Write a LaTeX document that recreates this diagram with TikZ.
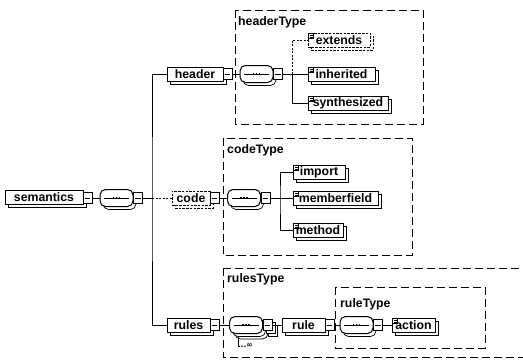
\documentclass[tikz,border=0pt]{standalone}
\usepackage{fontspec}
\setmainfont{Liberation Sans}
\newfontfamily\symfont{DejaVu Sans}
\usetikzlibrary{shadows}

\tikzset{
  x=1pt, y=-1pt,
  lbl/.style={font=\bfseries\fontsize{12.3}{14}\selectfont},
  conn/.style={line width=0.9pt},
  dconn/.style={line width=0.9pt, dash pattern=on 2pt off 1.5pt},
  typebox/.style={line width=0.8pt, dash pattern=on 8pt off 4pt},
  title/.style={lbl, anchor=west, inner sep=0pt},
  shadowA/.style={general shadow={shadow xshift=3pt, shadow yshift=-3pt, draw, fill=white, line width=0.7pt, #1}},
  elbase/.style={lbl, rectangle, draw, fill=white, line width=1pt, inner sep=0pt, minimum height=14pt},
  elem/.style={elbase, shadowA={}},
  optelem/.style={elbase, dash pattern=on 2.5pt off 1.2pt, shadowA={dash pattern=on 2.5pt off 1.2pt}},
  ind/.style={rectangle, draw, fill=white, line width=0.8pt, minimum width=9pt, minimum height=11pt, inner sep=0pt, anchor=west,
    path picture={\draw[line width=0.8pt] ([xshift=1.8pt]path picture bounding box.west) -- ([xshift=-1.8pt]path picture bounding box.east);}},
  seqbase/.style={rectangle, rounded corners=5.5pt, draw, fill=white, line width=1pt,
    minimum width=33pt, minimum height=17pt, inner sep=0pt,
    path picture={
      \draw[line width=0.9pt] ([xshift=4pt]path picture bounding box.west) -- ([xshift=-4pt]path picture bounding box.east);
      \foreach \d in {-3,0,3}
        \fill[black, rounded corners=0pt] ([xshift=\d pt]path picture bounding box.center) +(-0.95pt,-0.95pt) rectangle +(0.95pt,0.95pt);
    }},
  seq/.style={seqbase, shadowA={}},
  seqmany/.style={seqbase,
    general shadow={shadow xshift=5.5pt, shadow yshift=-5.5pt, draw, fill=white, line width=0.7pt},
    general shadow={shadow xshift=3pt, shadow yshift=-3pt, draw, fill=white, line width=0.7pt}},
  indmany/.style={ind,
    general shadow={shadow xshift=5.5pt, shadow yshift=-5.5pt, draw, fill=white, line width=0.7pt},
    general shadow={shadow xshift=3pt, shadow yshift=-3pt, draw, fill=white, line width=0.7pt}},
}

% small content icon in the upper left corner of an element box
\newcommand\elicon[1]{%
  \draw[line width=0.45pt, fill=white] ([shift={(1.2pt,-1.2pt)}]#1.north west) rectangle ++(5pt,-5pt);
  \draw[line width=0.45pt] ([shift={(2.2pt,-3pt)}]#1.north west) -- ++(3pt,0pt)
                           ([shift={(2.2pt,-4.6pt)}]#1.north west) -- ++(3pt,0pt);}

\begin{document}
\begin{tikzpicture}
\useasboundingbox (0,0) rectangle (523,362);
\fill[white] (0,0) rectangle (523,362);
\clip (0,0) rectangle (523,362);

% complex type frames
\draw[typebox] (235,10) rectangle (423,124);
\node[title] (tHeader) at (238,22) {headerType};
\draw[typebox] (223,138) rectangle (412,255);
\node[title] (tCode) at (227,150) {codeType};
\draw[typebox] (223,268) rectangle (540,357);
\node[title] (tRules) at (227,279) {rulesType};
\draw[typebox] (335,287) rectangle (485,348);
\node[title] (tRule) at (340,304) {ruleType};

% root element and its sequence
\node[elem, minimum width=78pt] (sem) at (44,197) {semantics};
\node[ind] (semi) at ([xshift=-1pt,yshift=-1pt]sem.east) {};
\node[seq] (s0) at (116.5,198) {};
\node[ind] (s0i) at ([xshift=-0.5pt]s0.east) {};
\coordinate (bus) at (152,198);
\draw[conn] (semi) -- (s0);
\draw[conn] (s0i) -- (bus);

% children of semantics
\node[elem, minimum width=56pt] (header) at (195,74) {header};
\node[ind] (headeri) at ([xshift=-1pt]header.east) {};
\node[optelem, minimum width=38pt] (code) at (191,198) {code};
\node[ind] (codei) at ([xshift=-1pt]code.east) {};
\node[elem, minimum width=43pt] (rules) at (188.5,325) {rules};
\node[ind] (rulesi) at ([xshift=-1pt]rules.east) {};
\draw[conn] (header.west) -| (bus) |- (rules.west);
\draw[dconn] (bus) -- (code.west);

% headerType content
\node[seq] (hs) at (256.5,74) {};
\node[ind] (hsi) at ([xshift=-0.5pt]hs.east) {};
\coordinate (hb) at (292,74);
\node[optelem, minimum width=62pt] (extends) at (339,40) {extends};
\node[elem, minimum width=67pt] (inherited) at (341.5,74) {inherited};
\node[elem, minimum width=80pt] (synth) at (348,103) {synthesized};
\elicon{extends}\elicon{inherited}\elicon{synth}
\draw[conn] (headeri) -- (hs);
\draw[conn] (hsi) -- (inherited.west);
\draw[conn] (hb) |- (synth.west);
\draw[dconn] (hb) |- (extends.west);

% codeType content
\node[seq] (cs) at (244,198) {};
\node[ind] (csi) at ([xshift=-0.5pt]cs.east) {};
\coordinate (cb) at (280,198);
\node[elem, minimum width=52pt] (import) at (319,172) {import};
\node[elem, minimum width=85pt] (member) at (335.5,198) {memberfield};
\node[elem, minimum width=50pt] (method) at (318,230) {method};
\elicon{import}\elicon{member}\elicon{method}
\draw[conn] (codei) -- (cs);
\draw[conn] (csi) -- (member.west);
\draw[conn] (import.west) -| (cb) |- (method.west);

% rulesType and ruleType content
\node[seqmany] (rs) at (246,325) {};
\node[indmany] (rsi) at ([xshift=-0.5pt]rs.east) {};
\node[elem, minimum width=43pt] (rule) at (303.5,325) {rule};
\node[ind] (rulei) at ([xshift=-1pt]rule.east) {};
\node[seq] (rls) at (356.5,325) {};
\node[ind] (rlsi) at ([xshift=-0.5pt]rls.east) {};
\node[elem, minimum width=43pt] (action) at (413.5,325) {action};
\elicon{action}
\draw[conn] (rulesi) -- (rs);
\draw[conn] (rsi) -- (rule);
\draw[conn] (rulei) -- (rls);
\draw[conn] (rlsi) -- (action);

% occurrence label of the repeated sequence
\coordinate (rm) at (238,337);
\node[font=\symfont\bfseries\fontsize{7.5}{8}\selectfont, anchor=west, inner sep=0.5pt] (rmult) at (240,346) {..∞};
\draw[line width=0.7pt] (rm) |- (rmult.west);
\end{tikzpicture}
\end{document}
